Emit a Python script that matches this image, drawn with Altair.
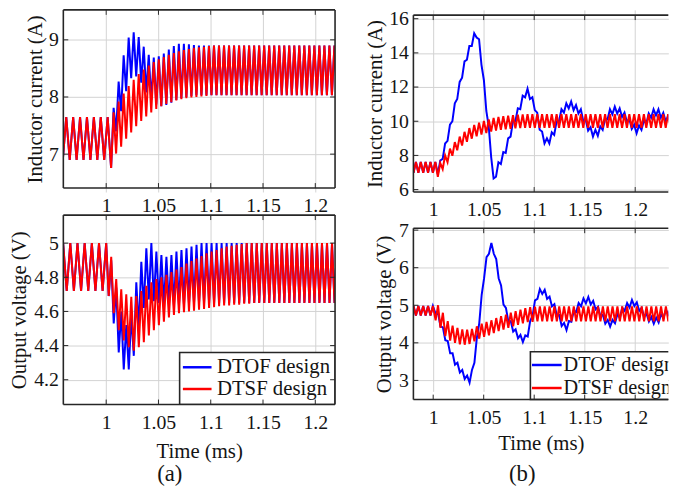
import altair as alt
import pandas as pd

FONT = "Liberation Serif"
BLUE = "#0000ff"
RED = "#ff0000"
GRID = "#d2d2d2"
FRAME = "#262626"
INK = "#141414"

TIME_TICKS = [1, 1.05, 1.1, 1.15, 1.2]
LEGEND_LABELS = ["DTOF design", "DTSF design"]
HALF = 0.0024  # half switching period after the load step (ms)

# ======================= (a) =======================
A_X = [0.959, 1.2189]
A_CUR_Y = [6.407, 9.524]
A_CUR_TICKS = [7, 8, 9]
A_VOLT_Y = [4.055, 5.164]
A_VOLT_TICKS = [4.2, 4.4, 4.6, 4.8, 5]

# inductor current, before the step (shared by both designs)
a_cur_pre_t = [0.9585, 1.0014]
a_cur_pre = [6.90, 7.65, 6.90, 7.65, 6.90, 7.65, 6.90, 7.65, 6.90, 7.65, 6.90, 7.65, 6.90, 7.65]
a_cur_t0 = 1.0047
a_cur_red_lo = [6.76, 7.01, 7.13, 7.27, 7.38, 7.49, 7.58, 7.66, 7.73, 7.79, 7.84, 7.88, 7.91, 7.94,
                7.96, 7.98, 7.99, 8.00, 8.01, 8.02] + [8.03] * 27
a_cur_red_hi = [7.73, 7.92, 8.06, 8.19, 8.30, 8.40, 8.48, 8.55, 8.61, 8.66, 8.70, 8.74, 8.77, 8.80,
                8.82, 8.84, 8.86, 8.87, 8.88, 8.89] + [8.90] * 27
a_cur_blue_lo = [6.76, 7.40, 7.75, 8.10, 8.33, 8.36, 8.25, 8.08, 7.95, 7.87, 7.84, 7.86, 7.90, 7.95,
                 7.98, 8.00, 8.02] + [8.03] * 30
a_cur_blue_hi = [7.81, 8.27, 8.73, 9.04, 9.13, 9.05, 8.88, 8.74, 8.69, 8.71, 8.76, 8.83, 8.89, 8.93,
                 8.93, 8.92, 8.91] + [8.90] * 30

# output voltage
a_volt_pre_t = [0.9588, 1.0]
a_volt_pre = [5.00, 4.72, 5.00, 4.72, 5.00, 4.72, 5.00, 4.72, 5.00, 4.72, 5.00, 4.72, 5.00]
a_volt_t0 = 1.0024
a_volt_red_lo = [4.69, 4.59, 4.49, 4.43, 4.39, 4.37, 4.39, 4.42, 4.46, 4.49, 4.52, 4.54, 4.565, 4.58,
                 4.59, 4.595, 4.60, 4.605, 4.61, 4.615, 4.62, 4.625, 4.63, 4.635, 4.635, 4.64, 4.64,
                 4.645, 4.645] + [4.65] * 18
a_volt_red_hi = [4.92, 4.79, 4.73, 4.70, 4.685, 4.69, 4.72, 4.75, 4.77, 4.79, 4.80, 4.815, 4.83, 4.845,
                 4.86, 4.88, 4.895, 4.91, 4.925, 4.94, 4.95, 4.96, 4.97, 4.98, 4.985, 4.99, 4.995] + [5.00] * 20
a_volt_blue_lo = [4.69, 4.53, 4.36, 4.26, 4.26, 4.34, 4.50, 4.62, 4.67, 4.66, 4.65, 4.64, 4.635, 4.635,
                  4.64, 4.64, 4.645] + [4.65] * 30
a_volt_blue_hi = [4.90, 4.74, 4.60, 4.52, 4.58, 4.77, 4.89, 4.97, 5.00, 4.95, 4.93, 4.92, 4.93, 4.95,
                  4.96, 4.97, 4.98, 4.99] + [5.00] * 29

# ======================= (b) =======================
B_X = [0.9804, 1.2328]
B_CUR_Y = [5.86, 16.21]
B_CUR_TICKS = [6, 8, 10, 12, 14, 16]
B_VOLT_Y = [2.49, 7.05]
B_VOLT_TICKS = [3, 4, 5, 6, 7]

b_cur_pre_t = [0.9805, 1.0021]
b_cur_pre = [6.98, 7.62, 6.98, 7.62, 6.98, 7.62, 6.98, 7.62, 6.98, 7.62]
b_cur_t0 = 1.0046
b_cur_red_mid = [7.15, 7.6, 8.0, 8.38, 8.7, 8.98, 9.2, 9.38, 9.52, 9.62, 9.71, 9.79, 9.85, 9.9, 9.93,
                 9.96, 9.98, 10.0, 10.01] + [10.02] * 30
b_cur_red_ripple = 0.4
b_cur_blue_path = [
    7.1, 7.5, 8.0, 8.5, 9.05, 9.6, 10.2, 10.85, 11.5, 12.1,
    12.75, 13.3, 13.8, 14.2, 14.6, 14.95, 15.1, 14.6, 13.5, 12.2,
    10.8, 9.5, 8.1, 6.45, 6.95, 7.4, 7.7, 8.0, 8.35, 8.8,
    9.3, 9.8, 10.2, 10.55, 10.9, 11.3, 11.6, 11.7, 11.5, 11.2,
    10.85, 10.3, 9.7, 9.2, 8.9, 8.8, 8.9, 9.15, 9.4, 9.8,
    10.2, 10.5, 10.7, 10.85, 10.95, 10.95, 10.85, 10.75, 10.65, 10.5,
    10.2, 9.9, 9.65, 9.45, 9.3, 9.3, 9.35, 9.5, 9.7, 9.95,
    10.3, 10.5, 10.6, 10.65, 10.65, 10.55, 10.45, 10.3, 10.15, 9.95,
    9.75, 9.6, 9.5, 9.55, 9.7, 9.85, 10.05, 10.25, 10.4, 10.5,
    10.55, 10.5, 10.4, 10.3, 10.2, 10.1, 10.05, 10.0]
b_cur_blue_ripple = 0.2

b_volt_pre_t = [0.9805, 0.9997]
b_volt_pre = [4.98, 4.73, 4.98, 4.73, 4.98, 4.73, 4.98, 4.73, 4.98]
b_volt_t0 = 1.0024
b_volt_red_mid = [4.80, 4.6, 4.38, 4.26, 4.2, 4.16, 4.15, 4.17, 4.24, 4.31, 4.36, 4.4, 4.46, 4.51, 4.55,
                  4.6, 4.64, 4.68, 4.72, 4.75, 4.76] + [4.77] * 28
b_volt_red_ripple = 0.2
b_volt_blue_path = [
    4.85, 4.72, 4.52, 4.33, 4.15, 3.97, 3.80, 3.64, 3.50, 3.39,
    3.29, 3.20, 3.12, 3.05, 3.02, 3.20, 3.55, 4.05, 4.60, 5.20,
    5.80, 6.20, 6.45, 6.58, 6.45, 6.15, 5.80, 5.45, 5.10, 4.85,
    4.65, 4.50, 4.38, 4.28, 4.20, 4.13, 4.10, 4.12, 4.25, 4.50,
    4.80, 5.05, 5.25, 5.35, 5.38, 5.33, 5.25, 5.15, 5.05, 4.95,
    4.80, 4.66, 4.53, 4.45, 4.42, 4.50, 4.64, 4.78, 4.90, 4.98,
    5.05, 5.10, 5.13, 5.14, 5.10, 5.04, 4.97, 4.88, 4.78, 4.67,
    4.59, 4.53, 4.51, 4.53, 4.60, 4.68, 4.75, 4.85, 4.93, 4.98,
    5.02, 5.06, 5.06, 5.00, 4.93, 4.85, 4.77, 4.70, 4.65, 4.61,
    4.59, 4.59, 4.62, 4.68, 4.74, 4.80, 4.84, 4.86]
b_volt_blue_ripple = 0.08


# ------------------------------------------------------------------
def seg_pre(t_range, vals):
    n = len(vals)
    step = (t_range[1] - t_range[0]) / (n - 1)
    return [t_range[0] + i * step for i in range(n)], list(vals)


def seg_cycles(t0, lows, highs):
    ts, vs = [], []
    for k, (lo, hi) in enumerate(zip(lows, highs)):
        ts += [t0 + 2 * k * HALF, t0 + (2 * k + 1) * HALF]
        vs += [lo, hi]
    return ts, vs


def seg_path(t0, mids, ripple):
    ts = [t0 + i * HALF for i in range(len(mids))]
    vs = [m - ripple if i % 2 == 0 else m + ripple for i, m in enumerate(mids)]
    return ts, vs


def series(pre, post):
    return pd.DataFrame({"t": pre[0] + post[0], "v": pre[1] + post[1]})


ONE = pd.DataFrame({"k": [0]})


def panel(blue, red, xdom, ydom, yticks, ytitle, ytitle_x, w, cell_h, y0, y1,
          xtitle="", xtitle_y=40, right_frame=True, legend=None, caption=None, legend_size=21):
    """y0 / y1: top and bottom of the plot frame inside the grid cell (pixels)."""
    xaxis = dict(values=TIME_TICKS, format="~g", grid=True, gridColor=GRID, gridWidth=1,
                 domain=False, ticks=False, tickSize=0, labelFont=FONT, labelFontSize=20,
                 labelColor=INK, labelPadding=8, labelOverlap=False, labelFlush=False,
                 title=xtitle, offset=y1 - cell_h)
    if xtitle:
        xaxis.update(titleFont=FONT, titleFontSize=21, titleFontWeight="normal", titleColor=INK,
                     titleBaseline="middle", titleY=xtitle_y)
    x = alt.X("t:Q", scale=alt.Scale(domain=xdom, nice=False, zero=False), axis=alt.Axis(**xaxis))
    y = alt.Y("v:Q", scale=alt.Scale(domain=ydom, range=[y1, y0], nice=False, zero=False),
              axis=alt.Axis(values=yticks, format="~g", grid=True, gridColor=GRID, gridWidth=1,
                            domain=False, ticks=False, tickSize=0, labelFont=FONT, labelFontSize=20,
                            labelColor=INK, labelPadding=5, labelOverlap=False, labelFlush=False,
                            title=ytitle, titleFont=FONT, titleFontSize=21, titleFontWeight="normal",
                            titleColor=INK, titleX=ytitle_x, titleY=(y0 + y1) / 2,
                            titleBaseline="middle"))
    layers = [
        alt.Chart(blue).mark_line(color=BLUE, strokeWidth=2, clip=True).encode(x=x, y=y),
        alt.Chart(red).mark_line(color=RED, strokeWidth=2, clip=True).encode(x=x, y=y),
    ]
    if legend:
        bx0, by0, sx0, sx1, ly1, ly2, tx, bx1 = legend
        layers += [
            alt.Chart(ONE).mark_rect(fill="white", stroke=FRAME, strokeWidth=1.6, clip=True).encode(
                x=alt.value(bx0), x2=alt.value(bx1), y=alt.value(y0 + by0), y2=alt.value(y1)),
            alt.Chart(ONE).mark_rule(color=BLUE, strokeWidth=2.5).encode(
                x=alt.value(sx0), x2=alt.value(sx1), y=alt.value(y0 + ly1)),
            alt.Chart(ONE).mark_rule(color=RED, strokeWidth=2.5).encode(
                x=alt.value(sx0), x2=alt.value(sx1), y=alt.value(y0 + ly2)),
            alt.Chart(ONE).mark_text(text=LEGEND_LABELS[0], align="left", baseline="middle", font=FONT,
                                     fontSize=legend_size, color=INK, clip=True).encode(
                x=alt.value(tx), y=alt.value(y0 + ly1)),
            alt.Chart(ONE).mark_text(text=LEGEND_LABELS[1], align="left", baseline="middle", font=FONT,
                                     fontSize=legend_size, color=INK, clip=True).encode(
                x=alt.value(tx), y=alt.value(y0 + ly2)),
        ]
    tx_df = pd.DataFrame({"t": TIME_TICKS})
    ty_df = pd.DataFrame({"v": yticks})
    layers += [
        alt.Chart(tx_df).mark_rule(color=FRAME, strokeWidth=1).encode(x=x, y=alt.value(y1), y2=alt.value(y1 - 5)),
        alt.Chart(tx_df).mark_rule(color=FRAME, strokeWidth=1).encode(x=x, y=alt.value(y0), y2=alt.value(y0 + 5)),
        alt.Chart(ty_df).mark_rule(color=FRAME, strokeWidth=1).encode(y=y, x=alt.value(0), x2=alt.value(5)),
        alt.Chart(ONE).mark_rule(color=FRAME, strokeWidth=1.6).encode(x=alt.value(0), x2=alt.value(w), y=alt.value(y0)),
        alt.Chart(ONE).mark_rule(color=FRAME, strokeWidth=1.6).encode(x=alt.value(0), x2=alt.value(w), y=alt.value(y1)),
        alt.Chart(ONE).mark_rule(color=FRAME, strokeWidth=1.6).encode(x=alt.value(0), y=alt.value(y0), y2=alt.value(y1)),
    ]
    if right_frame:
        layers += [
            alt.Chart(ty_df).mark_rule(color=FRAME, strokeWidth=1).encode(y=y, x=alt.value(w - 5), x2=alt.value(w)),
            alt.Chart(ONE).mark_rule(color=FRAME, strokeWidth=1.6).encode(x=alt.value(w), y=alt.value(y0), y2=alt.value(y1)),
        ]
    if caption:
        text, cx, cy = caption
        layers.append(alt.Chart(ONE).mark_text(text=text, align="center", baseline="middle", font=FONT,
                                               fontSize=23, color=INK).encode(x=alt.value(cx), y=alt.value(y0 + cy)))
    return alt.layer(*layers).properties(width=w, height=cell_h)


A_W, B_W = 275, 258
ROW1_H, ROW2_H = 184.3, 191.7

a_cur_pre_seg = seg_pre(a_cur_pre_t, a_cur_pre)
a_top = panel(series(a_cur_pre_seg, seg_cycles(a_cur_t0, a_cur_blue_lo, a_cur_blue_hi)),
              series(a_cur_pre_seg, seg_cycles(a_cur_t0, a_cur_red_lo, a_cur_red_hi)),
              A_X, A_CUR_Y, A_CUR_TICKS, "Inductor current (A)", -28, A_W, ROW1_H, 0, 180.3)

b_cur_pre_seg = seg_pre(b_cur_pre_t, b_cur_pre)
b_top = panel(series(b_cur_pre_seg, seg_path(b_cur_t0, b_cur_blue_path, b_cur_blue_ripple)),
              series(b_cur_pre_seg, seg_cycles(b_cur_t0,
                                               [m - b_cur_red_ripple for m in b_cur_red_mid],
                                               [m + b_cur_red_ripple for m in b_cur_red_mid])),
              B_X, B_CUR_Y, B_CUR_TICKS, "Inductor current (A)", -38, B_W, ROW1_H, 5.3, 184.3,
              right_frame=False)

a_volt_pre_seg = seg_pre(a_volt_pre_t, a_volt_pre)
a_bot = panel(series(a_volt_pre_seg, seg_cycles(a_volt_t0, a_volt_blue_lo, a_volt_blue_hi)),
              series(a_volt_pre_seg, seg_cycles(a_volt_t0, a_volt_red_lo, a_volt_red_hi)),
              A_X, A_VOLT_Y, A_VOLT_TICKS, "Output voltage (V)", -44, A_W, ROW2_H, 0, 191.7,
              xtitle="Time (ms)", xtitle_y=47.5,
              legend=(117.7, 139, 121, 150, 154, 176, 155.5, A_W),
              caption=("(a)", 107.7, 262))

b_volt_pre_seg = seg_pre(b_volt_pre_t, b_volt_pre)
b_bot = panel(series(b_volt_pre_seg, seg_path(b_volt_t0, b_volt_blue_path, b_volt_blue_ripple)),
              series(b_volt_pre_seg, seg_cycles(b_volt_t0,
                                                [m - b_volt_red_ripple for m in b_volt_red_mid],
                                                [m + b_volt_red_ripple for m in b_volt_red_mid])),
              B_X, B_VOLT_Y, B_VOLT_TICKS, "Output voltage (V)", -29, B_W, ROW2_H, 13.3, 186.7,
              xtitle="Time (ms)", xtitle_y=45, right_frame=False,
              legend=(118.4, 125, 120, 150, 138.4, 161.7, 152, B_W + 2),
              caption=("(b)", 110.2, 248.5), legend_size=20.5)

chart = alt.concat(a_top, b_top, a_bot, b_bot, columns=2, align="each", bounds="flush",
                   spacing={"row": 22.7, "column": 79.3}).properties(
    padding={"left": 0, "top": -3, "right": 0, "bottom": 0}
).configure_view(strokeWidth=0)

chart.save("out.html", embed_options={"renderer": "svg", "actions": False})
